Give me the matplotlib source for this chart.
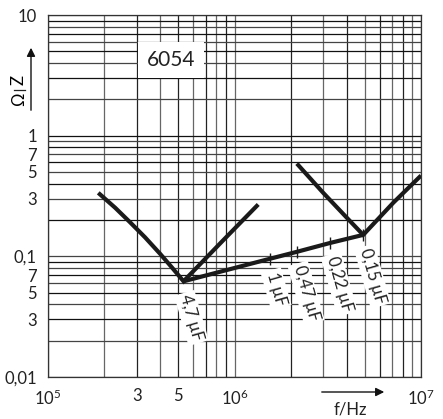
import matplotlib
matplotlib.use("Agg")
import matplotlib.pyplot as plt
import numpy as np

# impedance curves (f in Hz, Z in ohm)
left_f = [1.86e5, 2.29e5, 2.75e5, 3.31e5, 3.99e5, 4.62e5, 5.33e5, 8.54e5, 1.34e6]
left_z = [0.336, 0.253, 0.192, 0.144, 0.105, 0.0808, 0.0621, 0.132, 0.269]

right_f = [2.16e6, 2.99e6, 4.0e6, 4.9e6, 7.1e6, 1.0e7]
right_z = [0.587, 0.336, 0.209, 0.1506, 0.278, 0.467]

# resonance points along the lower line
res_f = [5.33e5, 1.55e6, 2.16e6, 3.25e6, 4.9e6]
res_z = [0.0621, 0.0955, 0.109, 0.129, 0.1506]
res_labels = ["4,7 µF", "1 µF", "0,47 µF", "0,22 µF", "0,15 µF"]

xtick_vals = [1e5, 3e5, 5e5, 1e6, 1e7]
xtick_labels = ["$10^5$", "3", "5", "$10^6$", "$10^7$"]
ytick_vals = [0.01, 0.03, 0.05, 0.07, 0.1, 0.3, 0.5, 0.7, 1, 10]
ytick_labels = ["0,01", "3", "5", "7", "0,1", "3", "5", "7", "1", "10"]

plt.rcParams["font.family"] = ["Lato", "DejaVu Sans"]
plt.rcParams["mathtext.fontset"] = "custom"
plt.rcParams["mathtext.rm"] = "Lato"
plt.rcParams["mathtext.it"] = "Lato"

W, H = 443, 419
fig = plt.figure(figsize=(W / 100, H / 100), dpi=100)
ax = fig.add_axes([48 / W, 1 - 377 / H, (421 - 48) / W, (377 - 15) / H])
ax.set_xscale("log")
ax.set_yscale("log")
ax.set_xlim(1e5, 1e7)
ax.set_ylim(0.01, 10)


def px(x, y):
    return x / W, 1 - y / H


# grid: every 1..9 per decade
xgrid = [k * 10.0 ** e for e in (5, 6) for k in range(1, 10)] + [1e7]
ygrid = [k * 10.0 ** e for e in (-2, -1, 0) for k in range(1, 10)] + [10]
for i, g in enumerate(xgrid):
    ax.axvline(g, color="#222222" if i % 2 == 0 else "#666666", lw=0.9, zorder=1)
for i, g in enumerate(ygrid):
    ax.axhline(g, color="#111111" if i % 2 == 0 else "#444444", lw=0.9, zorder=1)

for s in ax.spines.values():
    s.set_color("#333333")
    s.set_linewidth(0.9)

ax.set_xticks(xtick_vals)
ax.set_xticklabels(xtick_labels)
ax.set_yticks(ytick_vals)
ax.set_yticklabels(ytick_labels)
ax.minorticks_off()
ax.tick_params(length=0, labelsize=12, colors="#222222")
ax.tick_params(axis="y", pad=8)
ax.tick_params(axis="x", pad=8)

line_kw = dict(color="#1a1a1a", lw=3.0, solid_joinstyle="miter",
               solid_capstyle="butt", zorder=3)
ax.plot(left_f, left_z, **line_kw)
ax.plot(right_f, right_z, **line_kw)
ax.plot(res_f, res_z, **line_kw)
ax.plot(res_f[1:], res_z[1:], ls="none", marker="|", ms=9, mew=1.0,
        color="#1a1a1a", zorder=3)

for f, z, lab in zip(res_f, res_z, res_labels):
    ax.annotate(lab, (f, z), xytext=(1.0, -10), textcoords="offset points",
                rotation=-74, rotation_mode="anchor", ha="left", va="center",
                fontsize=12, color="#222222", zorder=4,
                bbox=dict(boxstyle="square,pad=0.15", fc="white", ec="none"))

# type number box
fig.text(*px(171, 60), "6054", fontsize=15, ha="center", va="center",
         color="#222222", zorder=5,
         bbox=dict(boxstyle="square,pad=0.4", fc="white", ec="none"))

# y axis label Z / Ohm with arrow
fig.text(*px(19, 80), "Z", rotation=90, fontsize=12, ha="center", va="center")
fig.text(*px(19, 99), "Ω", rotation=90, fontsize=12, ha="center", va="center")
fig.add_artist(plt.Line2D([14 / W, 25 / W], [1 - 89.5 / H, 1 - 89.5 / H],
                          color="#222222", lw=0.9))
fig.add_artist(matplotlib.patches.FancyArrowPatch(
    px(31, 113), px(31, 45), arrowstyle="-|>,head_length=5,head_width=2.5",
    color="#111111", lw=1.0, mutation_scale=1))

# x axis arrow and label
fig.add_artist(matplotlib.patches.FancyArrowPatch(
    px(319, 392), px(387, 392), arrowstyle="-|>,head_length=5,head_width=2.5",
    color="#111111", lw=1.0, mutation_scale=1))
fig.text(*px(350, 409), "f/Hz", fontsize=12, ha="center", va="center",
         color="#222222")

fig.savefig("out.png", dpi=100)
